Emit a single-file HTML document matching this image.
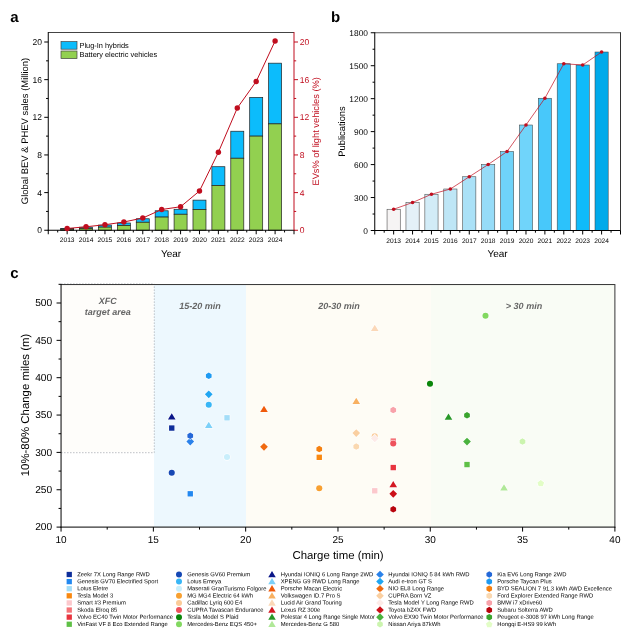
<!DOCTYPE html>
<html lang="en"><head><meta charset="utf-8"><title>EV fast charging figure</title>
<style>
html,body{margin:0;padding:0;background:#fff;}
body{width:640px;height:634px;overflow:hidden;}
svg{display:block;font-family:'Liberation Sans', Arial, sans-serif;}
</style></head><body>
<svg width="640" height="634" viewBox="0 0 640 634" text-rendering="geometricPrecision" font-family="'Liberation Sans', Arial, sans-serif">
<rect width="640" height="634" fill="#fff"/>
<g id="panelA">
<rect x="60.65" y="228.37" width="13.0" height="0.85" fill="#0CBCFC" stroke="#222" stroke-width="0.7"/>
<rect x="60.65" y="229.21" width="13.0" height="1.04" fill="#92D050" stroke="#222" stroke-width="0.7"/>
<rect x="79.56" y="227.24" width="13.0" height="1.13" fill="#0CBCFC" stroke="#222" stroke-width="0.7"/>
<rect x="79.56" y="228.37" width="13.0" height="1.88" fill="#92D050" stroke="#222" stroke-width="0.7"/>
<rect x="98.46" y="225.07" width="13.0" height="2.07" fill="#0CBCFC" stroke="#222" stroke-width="0.7"/>
<rect x="98.46" y="227.14" width="13.0" height="3.11" fill="#92D050" stroke="#222" stroke-width="0.7"/>
<rect x="117.37" y="223.00" width="13.0" height="2.54" fill="#0CBCFC" stroke="#222" stroke-width="0.7"/>
<rect x="117.37" y="225.54" width="13.0" height="4.71" fill="#92D050" stroke="#222" stroke-width="0.7"/>
<rect x="136.27" y="218.77" width="13.0" height="3.48" fill="#0CBCFC" stroke="#222" stroke-width="0.7"/>
<rect x="136.27" y="222.25" width="13.0" height="8.00" fill="#92D050" stroke="#222" stroke-width="0.7"/>
<rect x="155.17" y="210.77" width="13.0" height="6.31" fill="#0CBCFC" stroke="#222" stroke-width="0.7"/>
<rect x="155.17" y="217.07" width="13.0" height="13.18" fill="#92D050" stroke="#222" stroke-width="0.7"/>
<rect x="174.08" y="209.26" width="13.0" height="4.99" fill="#0CBCFC" stroke="#222" stroke-width="0.7"/>
<rect x="174.08" y="214.25" width="13.0" height="16.00" fill="#92D050" stroke="#222" stroke-width="0.7"/>
<rect x="192.98" y="200.13" width="13.0" height="9.41" fill="#0CBCFC" stroke="#222" stroke-width="0.7"/>
<rect x="192.98" y="209.54" width="13.0" height="20.71" fill="#92D050" stroke="#222" stroke-width="0.7"/>
<rect x="211.88" y="166.72" width="13.0" height="18.83" fill="#0CBCFC" stroke="#222" stroke-width="0.7"/>
<rect x="211.88" y="185.54" width="13.0" height="44.71" fill="#92D050" stroke="#222" stroke-width="0.7"/>
<rect x="230.79" y="131.23" width="13.0" height="27.01" fill="#0CBCFC" stroke="#222" stroke-width="0.7"/>
<rect x="230.79" y="158.24" width="13.0" height="72.01" fill="#92D050" stroke="#222" stroke-width="0.7"/>
<rect x="249.69" y="97.35" width="13.0" height="38.78" fill="#0CBCFC" stroke="#222" stroke-width="0.7"/>
<rect x="249.69" y="136.12" width="13.0" height="94.12" fill="#92D050" stroke="#222" stroke-width="0.7"/>
<rect x="268.60" y="63.18" width="13.0" height="60.71" fill="#0CBCFC" stroke="#222" stroke-width="0.7"/>
<rect x="268.60" y="123.89" width="13.0" height="106.36" fill="#92D050" stroke="#222" stroke-width="0.7"/>
<line x1="48.25" y1="32.50" x2="294.00" y2="32.50" stroke="#444" stroke-width="1" />
<line x1="48.25" y1="32.00" x2="48.25" y2="230.75" stroke="#000" stroke-width="1" />
<line x1="47.75" y1="230.25" x2="294.50" y2="230.25" stroke="#000" stroke-width="1" />
<line x1="294.00" y1="32.00" x2="294.00" y2="230.75" stroke="#C00D1E" stroke-width="1" />
<line x1="44.25" y1="230.25" x2="48.25" y2="230.25" stroke="#000" stroke-width="1" />
<line x1="294.00" y1="230.25" x2="298.00" y2="230.25" stroke="#C00D1E" stroke-width="1" />
<text x="42.00" y="233.35" font-size="8.5" text-anchor="end" fill="#000" font-weight="normal" font-style="normal">0</text>
<text x="299.80" y="233.35" font-size="8.5" text-anchor="start" fill="#C00D1E" font-weight="normal" font-style="normal">0</text>
<line x1="46.05" y1="211.43" x2="48.25" y2="211.43" stroke="#000" stroke-width="1" />
<line x1="294.00" y1="211.43" x2="296.20" y2="211.43" stroke="#C00D1E" stroke-width="1" />
<line x1="44.25" y1="192.60" x2="48.25" y2="192.60" stroke="#000" stroke-width="1" />
<line x1="294.00" y1="192.60" x2="298.00" y2="192.60" stroke="#C00D1E" stroke-width="1" />
<text x="42.00" y="195.70" font-size="8.5" text-anchor="end" fill="#000" font-weight="normal" font-style="normal">4</text>
<text x="299.80" y="195.70" font-size="8.5" text-anchor="start" fill="#C00D1E" font-weight="normal" font-style="normal">4</text>
<line x1="46.05" y1="173.78" x2="48.25" y2="173.78" stroke="#000" stroke-width="1" />
<line x1="294.00" y1="173.78" x2="296.20" y2="173.78" stroke="#C00D1E" stroke-width="1" />
<line x1="44.25" y1="154.95" x2="48.25" y2="154.95" stroke="#000" stroke-width="1" />
<line x1="294.00" y1="154.95" x2="298.00" y2="154.95" stroke="#C00D1E" stroke-width="1" />
<text x="42.00" y="158.05" font-size="8.5" text-anchor="end" fill="#000" font-weight="normal" font-style="normal">8</text>
<text x="299.80" y="158.05" font-size="8.5" text-anchor="start" fill="#C00D1E" font-weight="normal" font-style="normal">8</text>
<line x1="46.05" y1="136.12" x2="48.25" y2="136.12" stroke="#000" stroke-width="1" />
<line x1="294.00" y1="136.12" x2="296.20" y2="136.12" stroke="#C00D1E" stroke-width="1" />
<line x1="44.25" y1="117.30" x2="48.25" y2="117.30" stroke="#000" stroke-width="1" />
<line x1="294.00" y1="117.30" x2="298.00" y2="117.30" stroke="#C00D1E" stroke-width="1" />
<text x="42.00" y="120.40" font-size="8.5" text-anchor="end" fill="#000" font-weight="normal" font-style="normal">12</text>
<text x="299.80" y="120.40" font-size="8.5" text-anchor="start" fill="#C00D1E" font-weight="normal" font-style="normal">12</text>
<line x1="46.05" y1="98.47" x2="48.25" y2="98.47" stroke="#000" stroke-width="1" />
<line x1="294.00" y1="98.47" x2="296.20" y2="98.47" stroke="#C00D1E" stroke-width="1" />
<line x1="44.25" y1="79.65" x2="48.25" y2="79.65" stroke="#000" stroke-width="1" />
<line x1="294.00" y1="79.65" x2="298.00" y2="79.65" stroke="#C00D1E" stroke-width="1" />
<text x="42.00" y="82.75" font-size="8.5" text-anchor="end" fill="#000" font-weight="normal" font-style="normal">16</text>
<text x="299.80" y="82.75" font-size="8.5" text-anchor="start" fill="#C00D1E" font-weight="normal" font-style="normal">16</text>
<line x1="46.05" y1="60.83" x2="48.25" y2="60.83" stroke="#000" stroke-width="1" />
<line x1="294.00" y1="60.83" x2="296.20" y2="60.83" stroke="#C00D1E" stroke-width="1" />
<line x1="44.25" y1="42.00" x2="48.25" y2="42.00" stroke="#000" stroke-width="1" />
<line x1="294.00" y1="42.00" x2="298.00" y2="42.00" stroke="#C00D1E" stroke-width="1" />
<text x="42.00" y="45.10" font-size="8.5" text-anchor="end" fill="#000" font-weight="normal" font-style="normal">20</text>
<text x="299.80" y="45.10" font-size="8.5" text-anchor="start" fill="#C00D1E" font-weight="normal" font-style="normal">20</text>
<line x1="48.25" y1="230.25" x2="48.25" y2="234.25" stroke="#000" stroke-width="1" />
<line x1="57.70" y1="230.25" x2="57.70" y2="232.45" stroke="#000" stroke-width="1" />
<line x1="67.15" y1="230.25" x2="67.15" y2="234.25" stroke="#000" stroke-width="1" />
<line x1="76.61" y1="230.25" x2="76.61" y2="232.45" stroke="#000" stroke-width="1" />
<line x1="86.06" y1="230.25" x2="86.06" y2="234.25" stroke="#000" stroke-width="1" />
<line x1="95.51" y1="230.25" x2="95.51" y2="232.45" stroke="#000" stroke-width="1" />
<line x1="104.96" y1="230.25" x2="104.96" y2="234.25" stroke="#000" stroke-width="1" />
<line x1="114.41" y1="230.25" x2="114.41" y2="232.45" stroke="#000" stroke-width="1" />
<line x1="123.87" y1="230.25" x2="123.87" y2="234.25" stroke="#000" stroke-width="1" />
<line x1="133.32" y1="230.25" x2="133.32" y2="232.45" stroke="#000" stroke-width="1" />
<line x1="142.77" y1="230.25" x2="142.77" y2="234.25" stroke="#000" stroke-width="1" />
<line x1="152.22" y1="230.25" x2="152.22" y2="232.45" stroke="#000" stroke-width="1" />
<line x1="161.67" y1="230.25" x2="161.67" y2="234.25" stroke="#000" stroke-width="1" />
<line x1="171.12" y1="230.25" x2="171.12" y2="232.45" stroke="#000" stroke-width="1" />
<line x1="180.58" y1="230.25" x2="180.58" y2="234.25" stroke="#000" stroke-width="1" />
<line x1="190.03" y1="230.25" x2="190.03" y2="232.45" stroke="#000" stroke-width="1" />
<line x1="199.48" y1="230.25" x2="199.48" y2="234.25" stroke="#000" stroke-width="1" />
<line x1="208.93" y1="230.25" x2="208.93" y2="232.45" stroke="#000" stroke-width="1" />
<line x1="218.38" y1="230.25" x2="218.38" y2="234.25" stroke="#000" stroke-width="1" />
<line x1="227.84" y1="230.25" x2="227.84" y2="232.45" stroke="#000" stroke-width="1" />
<line x1="237.29" y1="230.25" x2="237.29" y2="234.25" stroke="#000" stroke-width="1" />
<line x1="246.74" y1="230.25" x2="246.74" y2="232.45" stroke="#000" stroke-width="1" />
<line x1="256.19" y1="230.25" x2="256.19" y2="234.25" stroke="#000" stroke-width="1" />
<line x1="265.64" y1="230.25" x2="265.64" y2="232.45" stroke="#000" stroke-width="1" />
<line x1="275.10" y1="230.25" x2="275.10" y2="234.25" stroke="#000" stroke-width="1" />
<line x1="284.55" y1="230.25" x2="284.55" y2="232.45" stroke="#000" stroke-width="1" />
<line x1="294.00" y1="230.25" x2="294.00" y2="234.25" stroke="#000" stroke-width="1" />
<text x="67.15" y="242.20" font-size="6.6" text-anchor="middle" fill="#000" font-weight="normal" font-style="normal">2013</text>
<text x="86.06" y="242.20" font-size="6.6" text-anchor="middle" fill="#000" font-weight="normal" font-style="normal">2014</text>
<text x="104.96" y="242.20" font-size="6.6" text-anchor="middle" fill="#000" font-weight="normal" font-style="normal">2015</text>
<text x="123.87" y="242.20" font-size="6.6" text-anchor="middle" fill="#000" font-weight="normal" font-style="normal">2016</text>
<text x="142.77" y="242.20" font-size="6.6" text-anchor="middle" fill="#000" font-weight="normal" font-style="normal">2017</text>
<text x="161.67" y="242.20" font-size="6.6" text-anchor="middle" fill="#000" font-weight="normal" font-style="normal">2018</text>
<text x="180.58" y="242.20" font-size="6.6" text-anchor="middle" fill="#000" font-weight="normal" font-style="normal">2019</text>
<text x="199.48" y="242.20" font-size="6.6" text-anchor="middle" fill="#000" font-weight="normal" font-style="normal">2020</text>
<text x="218.38" y="242.20" font-size="6.6" text-anchor="middle" fill="#000" font-weight="normal" font-style="normal">2021</text>
<text x="237.29" y="242.20" font-size="6.6" text-anchor="middle" fill="#000" font-weight="normal" font-style="normal">2022</text>
<text x="256.19" y="242.20" font-size="6.6" text-anchor="middle" fill="#000" font-weight="normal" font-style="normal">2023</text>
<text x="275.10" y="242.20" font-size="6.6" text-anchor="middle" fill="#000" font-weight="normal" font-style="normal">2024</text>
<polyline points="67.15,228.50 86.06,226.75 104.96,224.75 123.87,222.00 142.77,218.00 161.67,209.50 180.58,206.75 199.48,191.00 218.38,152.25 237.29,108.00 256.19,81.50 275.10,41.00" fill="none" stroke="#C00D1E" stroke-width="1"/>
<circle cx="67.15" cy="228.50" r="2.7" fill="#C00D1E"/>
<circle cx="86.06" cy="226.75" r="2.7" fill="#C00D1E"/>
<circle cx="104.96" cy="224.75" r="2.7" fill="#C00D1E"/>
<circle cx="123.87" cy="222.00" r="2.7" fill="#C00D1E"/>
<circle cx="142.77" cy="218.00" r="2.7" fill="#C00D1E"/>
<circle cx="161.67" cy="209.50" r="2.7" fill="#C00D1E"/>
<circle cx="180.58" cy="206.75" r="2.7" fill="#C00D1E"/>
<circle cx="199.48" cy="191.00" r="2.7" fill="#C00D1E"/>
<circle cx="218.38" cy="152.25" r="2.7" fill="#C00D1E"/>
<circle cx="237.29" cy="108.00" r="2.7" fill="#C00D1E"/>
<circle cx="256.19" cy="81.50" r="2.7" fill="#C00D1E"/>
<circle cx="275.10" cy="41.00" r="2.7" fill="#C00D1E"/>
<rect x="61" y="41.6" width="16" height="7.6" fill="#0CBCFC" stroke="#444" stroke-width="0.7"/>
<rect x="61" y="51" width="16" height="7.6" fill="#92D050" stroke="#444" stroke-width="0.7"/>
<text x="79.50" y="47.60" font-size="7.4" text-anchor="start" fill="#000" font-weight="normal" font-style="normal">Plug-In hybrids</text>
<text x="79.50" y="56.80" font-size="7.4" text-anchor="start" fill="#000" font-weight="normal" font-style="normal">Battery electric vehicles</text>
<text x="28.10" y="131.00" font-size="9.45" text-anchor="middle" fill="#000" font-weight="normal" font-style="normal" transform="rotate(-90 28.10 131.00)">Global BEV &amp; PHEV sales (Million)</text>
<text x="319.00" y="131.30" font-size="9.3" text-anchor="middle" fill="#C00D1E" font-weight="normal" font-style="normal" transform="rotate(-90 319.00 131.30)">EVs% of light vehicles (%)</text>
<text x="171.00" y="256.60" font-size="10" text-anchor="middle" fill="#000" font-weight="normal" font-style="normal">Year</text>
<text x="10.30" y="21.50" font-size="15" text-anchor="start" fill="#000" font-weight="bold" font-style="normal">a</text>
</g>
<g id="panelB">
<rect x="387.05" y="209.25" width="13.2" height="21.25" fill="#F6F4F4" stroke="#444" stroke-width="0.55"/>
<rect x="405.96" y="202.50" width="13.2" height="28.00" fill="#E4F1F8" stroke="#444" stroke-width="0.55"/>
<rect x="424.86" y="194.25" width="13.2" height="36.25" fill="#D2ECF7" stroke="#444" stroke-width="0.55"/>
<rect x="443.77" y="189.00" width="13.2" height="41.50" fill="#BEE6F6" stroke="#444" stroke-width="0.55"/>
<rect x="462.67" y="176.75" width="13.2" height="53.75" fill="#AAE1F7" stroke="#444" stroke-width="0.55"/>
<rect x="481.57" y="164.50" width="13.2" height="66.00" fill="#96DCF8" stroke="#444" stroke-width="0.55"/>
<rect x="500.48" y="151.50" width="13.2" height="79.00" fill="#6FD3F9" stroke="#444" stroke-width="0.55"/>
<rect x="519.38" y="125.00" width="13.2" height="105.50" fill="#70D4FA" stroke="#444" stroke-width="0.55"/>
<rect x="538.28" y="98.25" width="13.2" height="132.25" fill="#48C8FA" stroke="#444" stroke-width="0.55"/>
<rect x="557.19" y="63.75" width="13.2" height="166.75" fill="#2CC2FB" stroke="#444" stroke-width="0.55"/>
<rect x="576.09" y="65.00" width="13.2" height="165.50" fill="#10BBFA" stroke="#444" stroke-width="0.55"/>
<rect x="595.00" y="52.00" width="13.2" height="178.50" fill="#00AAEA" stroke="#444" stroke-width="0.55"/>
<line x1="374.75" y1="32.75" x2="620.50" y2="32.75" stroke="#555" stroke-width="1" />
<line x1="374.75" y1="32.25" x2="374.75" y2="231.00" stroke="#000" stroke-width="1" />
<line x1="374.25" y1="230.50" x2="621.00" y2="230.50" stroke="#000" stroke-width="1" />
<line x1="620.50" y1="32.25" x2="620.50" y2="231.00" stroke="#333" stroke-width="1" />
<line x1="370.75" y1="230.50" x2="374.75" y2="230.50" stroke="#000" stroke-width="1" />
<text x="368.00" y="233.50" font-size="8.4" text-anchor="end" fill="#000" font-weight="normal" font-style="normal">0</text>
<line x1="372.55" y1="214.02" x2="374.75" y2="214.02" stroke="#000" stroke-width="1" />
<line x1="370.75" y1="197.54" x2="374.75" y2="197.54" stroke="#000" stroke-width="1" />
<text x="368.00" y="200.54" font-size="8.4" text-anchor="end" fill="#000" font-weight="normal" font-style="normal">300</text>
<line x1="372.55" y1="181.06" x2="374.75" y2="181.06" stroke="#000" stroke-width="1" />
<line x1="370.75" y1="164.58" x2="374.75" y2="164.58" stroke="#000" stroke-width="1" />
<text x="368.00" y="167.58" font-size="8.4" text-anchor="end" fill="#000" font-weight="normal" font-style="normal">600</text>
<line x1="372.55" y1="148.10" x2="374.75" y2="148.10" stroke="#000" stroke-width="1" />
<line x1="370.75" y1="131.62" x2="374.75" y2="131.62" stroke="#000" stroke-width="1" />
<text x="368.00" y="134.62" font-size="8.4" text-anchor="end" fill="#000" font-weight="normal" font-style="normal">900</text>
<line x1="372.55" y1="115.15" x2="374.75" y2="115.15" stroke="#000" stroke-width="1" />
<line x1="370.75" y1="98.67" x2="374.75" y2="98.67" stroke="#000" stroke-width="1" />
<text x="368.00" y="101.67" font-size="8.4" text-anchor="end" fill="#000" font-weight="normal" font-style="normal">1200</text>
<line x1="372.55" y1="82.19" x2="374.75" y2="82.19" stroke="#000" stroke-width="1" />
<line x1="370.75" y1="65.71" x2="374.75" y2="65.71" stroke="#000" stroke-width="1" />
<text x="368.00" y="68.71" font-size="8.4" text-anchor="end" fill="#000" font-weight="normal" font-style="normal">1500</text>
<line x1="372.55" y1="49.23" x2="374.75" y2="49.23" stroke="#000" stroke-width="1" />
<line x1="370.75" y1="32.75" x2="374.75" y2="32.75" stroke="#000" stroke-width="1" />
<text x="368.00" y="35.75" font-size="8.4" text-anchor="end" fill="#000" font-weight="normal" font-style="normal">1800</text>
<line x1="374.75" y1="230.50" x2="374.75" y2="234.50" stroke="#000" stroke-width="1" />
<line x1="384.20" y1="230.50" x2="384.20" y2="232.70" stroke="#000" stroke-width="1" />
<line x1="393.65" y1="230.50" x2="393.65" y2="234.50" stroke="#000" stroke-width="1" />
<line x1="403.11" y1="230.50" x2="403.11" y2="232.70" stroke="#000" stroke-width="1" />
<line x1="412.56" y1="230.50" x2="412.56" y2="234.50" stroke="#000" stroke-width="1" />
<line x1="422.01" y1="230.50" x2="422.01" y2="232.70" stroke="#000" stroke-width="1" />
<line x1="431.46" y1="230.50" x2="431.46" y2="234.50" stroke="#000" stroke-width="1" />
<line x1="440.91" y1="230.50" x2="440.91" y2="232.70" stroke="#000" stroke-width="1" />
<line x1="450.37" y1="230.50" x2="450.37" y2="234.50" stroke="#000" stroke-width="1" />
<line x1="459.82" y1="230.50" x2="459.82" y2="232.70" stroke="#000" stroke-width="1" />
<line x1="469.27" y1="230.50" x2="469.27" y2="234.50" stroke="#000" stroke-width="1" />
<line x1="478.72" y1="230.50" x2="478.72" y2="232.70" stroke="#000" stroke-width="1" />
<line x1="488.17" y1="230.50" x2="488.17" y2="234.50" stroke="#000" stroke-width="1" />
<line x1="497.62" y1="230.50" x2="497.62" y2="232.70" stroke="#000" stroke-width="1" />
<line x1="507.08" y1="230.50" x2="507.08" y2="234.50" stroke="#000" stroke-width="1" />
<line x1="516.53" y1="230.50" x2="516.53" y2="232.70" stroke="#000" stroke-width="1" />
<line x1="525.98" y1="230.50" x2="525.98" y2="234.50" stroke="#000" stroke-width="1" />
<line x1="535.43" y1="230.50" x2="535.43" y2="232.70" stroke="#000" stroke-width="1" />
<line x1="544.88" y1="230.50" x2="544.88" y2="234.50" stroke="#000" stroke-width="1" />
<line x1="554.34" y1="230.50" x2="554.34" y2="232.70" stroke="#000" stroke-width="1" />
<line x1="563.79" y1="230.50" x2="563.79" y2="234.50" stroke="#000" stroke-width="1" />
<line x1="573.24" y1="230.50" x2="573.24" y2="232.70" stroke="#000" stroke-width="1" />
<line x1="582.69" y1="230.50" x2="582.69" y2="234.50" stroke="#000" stroke-width="1" />
<line x1="592.14" y1="230.50" x2="592.14" y2="232.70" stroke="#000" stroke-width="1" />
<line x1="601.60" y1="230.50" x2="601.60" y2="234.50" stroke="#000" stroke-width="1" />
<line x1="611.05" y1="230.50" x2="611.05" y2="232.70" stroke="#000" stroke-width="1" />
<line x1="620.50" y1="230.50" x2="620.50" y2="234.50" stroke="#000" stroke-width="1" />
<text x="393.65" y="242.50" font-size="6.6" text-anchor="middle" fill="#000" font-weight="normal" font-style="normal">2013</text>
<text x="412.56" y="242.50" font-size="6.6" text-anchor="middle" fill="#000" font-weight="normal" font-style="normal">2014</text>
<text x="431.46" y="242.50" font-size="6.6" text-anchor="middle" fill="#000" font-weight="normal" font-style="normal">2015</text>
<text x="450.37" y="242.50" font-size="6.6" text-anchor="middle" fill="#000" font-weight="normal" font-style="normal">2016</text>
<text x="469.27" y="242.50" font-size="6.6" text-anchor="middle" fill="#000" font-weight="normal" font-style="normal">2017</text>
<text x="488.17" y="242.50" font-size="6.6" text-anchor="middle" fill="#000" font-weight="normal" font-style="normal">2018</text>
<text x="507.08" y="242.50" font-size="6.6" text-anchor="middle" fill="#000" font-weight="normal" font-style="normal">2019</text>
<text x="525.98" y="242.50" font-size="6.6" text-anchor="middle" fill="#000" font-weight="normal" font-style="normal">2020</text>
<text x="544.88" y="242.50" font-size="6.6" text-anchor="middle" fill="#000" font-weight="normal" font-style="normal">2021</text>
<text x="563.79" y="242.50" font-size="6.6" text-anchor="middle" fill="#000" font-weight="normal" font-style="normal">2022</text>
<text x="582.69" y="242.50" font-size="6.6" text-anchor="middle" fill="#000" font-weight="normal" font-style="normal">2023</text>
<text x="601.60" y="242.50" font-size="6.6" text-anchor="middle" fill="#000" font-weight="normal" font-style="normal">2024</text>
<polyline points="393.65,209.25 412.56,202.50 431.46,194.25 450.37,189.00 469.27,176.75 488.17,164.50 507.08,151.50 525.98,125.00 544.88,98.25 563.79,63.75 582.69,65.00 601.60,52.00" fill="none" stroke="#C00D1E" stroke-width="0.7"/>
<circle cx="393.65" cy="209.25" r="1.8" fill="#C00D1E"/>
<circle cx="412.56" cy="202.50" r="1.8" fill="#C00D1E"/>
<circle cx="431.46" cy="194.25" r="1.8" fill="#C00D1E"/>
<circle cx="450.37" cy="189.00" r="1.8" fill="#C00D1E"/>
<circle cx="469.27" cy="176.75" r="1.8" fill="#C00D1E"/>
<circle cx="488.17" cy="164.50" r="1.8" fill="#C00D1E"/>
<circle cx="507.08" cy="151.50" r="1.8" fill="#C00D1E"/>
<circle cx="525.98" cy="125.00" r="1.8" fill="#C00D1E"/>
<circle cx="544.88" cy="98.25" r="1.8" fill="#C00D1E"/>
<circle cx="563.79" cy="63.75" r="1.8" fill="#C00D1E"/>
<circle cx="582.69" cy="65.00" r="1.8" fill="#C00D1E"/>
<circle cx="601.60" cy="52.00" r="1.8" fill="#C00D1E"/>
<text x="345.30" y="131.50" font-size="9.4" text-anchor="middle" fill="#000" font-weight="normal" font-style="normal" transform="rotate(-90 345.30 131.50)">Publications</text>
<text x="497.50" y="256.60" font-size="10" text-anchor="middle" fill="#000" font-weight="normal" font-style="normal">Year</text>
<text x="331.00" y="21.50" font-size="15" text-anchor="start" fill="#000" font-weight="bold" font-style="normal">b</text>
</g>
<g id="panelC">
<rect x="61.05" y="284.55" width="92.20" height="167.25" fill="#FEFDFA"/>
<rect x="154.05" y="284.55" width="91.95" height="242.55" fill="#EDF8FE"/>
<rect x="246.0" y="284.55" width="184.90" height="242.55" fill="#FEFCF5"/>
<rect x="430.9" y="284.55" width="183.70" height="242.55" fill="#F9FCF5"/>
<path d="M61.05 452.70 H154.25 V284.55" fill="none" stroke="#B4B8BC" stroke-width="0.9" stroke-dasharray="1.5 1.5"/>
<path d="M61.05 283.95 H154.25" fill="none" stroke="#B4B8BC" stroke-width="0.9" stroke-dasharray="1.5 1.5"/>
<line x1="61.05" y1="284.55" x2="614.90" y2="284.55" stroke="#333" stroke-width="1" />
<line x1="614.90" y1="284.05" x2="614.90" y2="527.60" stroke="#333" stroke-width="1" />
<line x1="61.05" y1="284.05" x2="61.05" y2="527.60" stroke="#000" stroke-width="1" />
<line x1="60.55" y1="527.10" x2="615.40" y2="527.10" stroke="#000" stroke-width="1" />
<line x1="56.55" y1="527.10" x2="61.05" y2="527.10" stroke="#000" stroke-width="1" />
<text x="52.20" y="530.30" font-size="10.2" text-anchor="end" fill="#000" font-weight="normal" font-style="normal">200</text>
<line x1="58.55" y1="508.43" x2="61.05" y2="508.43" stroke="#000" stroke-width="1" />
<line x1="56.55" y1="489.75" x2="61.05" y2="489.75" stroke="#000" stroke-width="1" />
<text x="52.20" y="492.95" font-size="10.2" text-anchor="end" fill="#000" font-weight="normal" font-style="normal">250</text>
<line x1="58.55" y1="471.08" x2="61.05" y2="471.08" stroke="#000" stroke-width="1" />
<line x1="56.55" y1="452.40" x2="61.05" y2="452.40" stroke="#000" stroke-width="1" />
<text x="52.20" y="455.60" font-size="10.2" text-anchor="end" fill="#000" font-weight="normal" font-style="normal">300</text>
<line x1="58.55" y1="433.73" x2="61.05" y2="433.73" stroke="#000" stroke-width="1" />
<line x1="56.55" y1="415.05" x2="61.05" y2="415.05" stroke="#000" stroke-width="1" />
<text x="52.20" y="418.25" font-size="10.2" text-anchor="end" fill="#000" font-weight="normal" font-style="normal">350</text>
<line x1="58.55" y1="396.38" x2="61.05" y2="396.38" stroke="#000" stroke-width="1" />
<line x1="56.55" y1="377.70" x2="61.05" y2="377.70" stroke="#000" stroke-width="1" />
<text x="52.20" y="380.90" font-size="10.2" text-anchor="end" fill="#000" font-weight="normal" font-style="normal">400</text>
<line x1="58.55" y1="359.02" x2="61.05" y2="359.02" stroke="#000" stroke-width="1" />
<line x1="56.55" y1="340.35" x2="61.05" y2="340.35" stroke="#000" stroke-width="1" />
<text x="52.20" y="343.55" font-size="10.2" text-anchor="end" fill="#000" font-weight="normal" font-style="normal">450</text>
<line x1="58.55" y1="321.67" x2="61.05" y2="321.67" stroke="#000" stroke-width="1" />
<line x1="56.55" y1="303.00" x2="61.05" y2="303.00" stroke="#000" stroke-width="1" />
<text x="52.20" y="306.20" font-size="10.2" text-anchor="end" fill="#000" font-weight="normal" font-style="normal">500</text>
<line x1="58.55" y1="284.32" x2="61.05" y2="284.32" stroke="#000" stroke-width="1" />
<line x1="61.05" y1="527.10" x2="61.05" y2="531.60" stroke="#000" stroke-width="1" />
<text x="61.05" y="542.70" font-size="10" text-anchor="middle" fill="#000" font-weight="normal" font-style="normal">10</text>
<line x1="107.20" y1="527.10" x2="107.20" y2="529.60" stroke="#000" stroke-width="1" />
<line x1="153.36" y1="527.10" x2="153.36" y2="531.60" stroke="#000" stroke-width="1" />
<text x="153.36" y="542.70" font-size="10" text-anchor="middle" fill="#000" font-weight="normal" font-style="normal">15</text>
<line x1="199.51" y1="527.10" x2="199.51" y2="529.60" stroke="#000" stroke-width="1" />
<line x1="245.67" y1="527.10" x2="245.67" y2="531.60" stroke="#000" stroke-width="1" />
<text x="245.67" y="542.70" font-size="10" text-anchor="middle" fill="#000" font-weight="normal" font-style="normal">20</text>
<line x1="291.82" y1="527.10" x2="291.82" y2="529.60" stroke="#000" stroke-width="1" />
<line x1="337.98" y1="527.10" x2="337.98" y2="531.60" stroke="#000" stroke-width="1" />
<text x="337.98" y="542.70" font-size="10" text-anchor="middle" fill="#000" font-weight="normal" font-style="normal">25</text>
<line x1="384.13" y1="527.10" x2="384.13" y2="529.60" stroke="#000" stroke-width="1" />
<line x1="430.28" y1="527.10" x2="430.28" y2="531.60" stroke="#000" stroke-width="1" />
<text x="430.28" y="542.70" font-size="10" text-anchor="middle" fill="#000" font-weight="normal" font-style="normal">30</text>
<line x1="476.44" y1="527.10" x2="476.44" y2="529.60" stroke="#000" stroke-width="1" />
<line x1="522.59" y1="527.10" x2="522.59" y2="531.60" stroke="#000" stroke-width="1" />
<text x="522.59" y="542.70" font-size="10" text-anchor="middle" fill="#000" font-weight="normal" font-style="normal">35</text>
<line x1="568.75" y1="527.10" x2="568.75" y2="529.60" stroke="#000" stroke-width="1" />
<line x1="614.90" y1="527.10" x2="614.90" y2="531.60" stroke="#000" stroke-width="1" />
<text x="614.90" y="542.70" font-size="10" text-anchor="middle" fill="#000" font-weight="normal" font-style="normal">40</text>
<text x="28.50" y="405.00" font-size="11.4" text-anchor="middle" fill="#000" font-weight="normal" font-style="normal" transform="rotate(-90 28.50 405.00)">10%-80% Change miles (m)</text>
<text x="338.00" y="559.00" font-size="11.4" text-anchor="middle" fill="#000" font-weight="normal" font-style="normal">Charge time (min)</text>
<text x="10.30" y="277.70" font-size="15" text-anchor="start" fill="#000" font-weight="bold" font-style="normal">c</text>
<text x="107.75" y="303.50" font-size="9.0" text-anchor="middle" fill="#666666" font-weight="bold" font-style="italic">XFC</text>
<text x="107.75" y="315.00" font-size="9.0" text-anchor="middle" fill="#666666" font-weight="bold" font-style="italic">target area</text>
<text x="200.00" y="309.20" font-size="9.05" text-anchor="middle" fill="#666666" font-weight="bold" font-style="italic">15-20 min</text>
<text x="339.00" y="309.20" font-size="9.05" text-anchor="middle" fill="#666666" font-weight="bold" font-style="italic">20-30 min</text>
<text x="524.00" y="309.20" font-size="9.05" text-anchor="middle" fill="#666666" font-weight="bold" font-style="italic">&gt; 30 min</text>
<rect x="169.07" y="425.37" width="5.37" height="5.37" fill="#0E2E9A" stroke="#fff" stroke-opacity="0.9" stroke-width="1.1" paint-order="stroke"/>
<rect x="187.57" y="491.12" width="5.37" height="5.37" fill="#2288F0" stroke="#fff" stroke-opacity="0.9" stroke-width="1.1" paint-order="stroke"/>
<rect x="224.32" y="415.12" width="5.37" height="5.37" fill="#A3DDF8" stroke="#fff" stroke-opacity="0.9" stroke-width="1.1" paint-order="stroke"/>
<rect x="316.57" y="454.62" width="5.37" height="5.37" fill="#F98810" stroke="#fff" stroke-opacity="0.9" stroke-width="1.1" paint-order="stroke"/>
<rect x="372.07" y="488.12" width="5.37" height="5.37" fill="#FCC8CC" stroke="#fff" stroke-opacity="0.9" stroke-width="1.1" paint-order="stroke"/>
<rect x="390.57" y="438.37" width="5.37" height="5.37" fill="#F47478" stroke="#fff" stroke-opacity="0.9" stroke-width="1.1" paint-order="stroke"/>
<rect x="390.57" y="464.87" width="5.37" height="5.37" fill="#E8343E" stroke="#fff" stroke-opacity="0.9" stroke-width="1.1" paint-order="stroke"/>
<rect x="464.32" y="461.87" width="5.37" height="5.37" fill="#5EC046" stroke="#fff" stroke-opacity="0.9" stroke-width="1.1" paint-order="stroke"/>
<circle cx="171.75" cy="472.80" r="3.05" fill="#1648B4" stroke="#fff" stroke-opacity="0.9" stroke-width="1.1" paint-order="stroke"/>
<circle cx="208.75" cy="404.80" r="3.05" fill="#38B6F6" stroke="#fff" stroke-opacity="0.9" stroke-width="1.1" paint-order="stroke"/>
<circle cx="227.00" cy="457.05" r="3.05" fill="#C8EEFB" stroke="#fff" stroke-opacity="0.9" stroke-width="1.1" paint-order="stroke"/>
<circle cx="319.25" cy="488.30" r="3.05" fill="#F8A030" stroke="#fff" stroke-opacity="0.9" stroke-width="1.1" paint-order="stroke"/>
<circle cx="374.75" cy="436.30" r="3.05" fill="#FBCB98" stroke="#fff" stroke-opacity="0.9" stroke-width="1.1" paint-order="stroke"/>
<circle cx="393.25" cy="443.55" r="3.05" fill="#EE525C" stroke="#fff" stroke-opacity="0.9" stroke-width="1.1" paint-order="stroke"/>
<circle cx="430.00" cy="383.80" r="3.05" fill="#0A860A" stroke="#fff" stroke-opacity="0.9" stroke-width="1.1" paint-order="stroke"/>
<circle cx="485.50" cy="315.80" r="3.05" fill="#82D860" stroke="#fff" stroke-opacity="0.9" stroke-width="1.1" paint-order="stroke"/>
<polygon points="171.75,413.14 175.56,419.55 167.94,419.55" fill="#0A1688" stroke="#fff" stroke-opacity="0.9" stroke-width="1.1" paint-order="stroke"/>
<polygon points="208.75,421.64 212.56,428.05 204.94,428.05" fill="#7CD0F8" stroke="#fff" stroke-opacity="0.9" stroke-width="1.1" paint-order="stroke"/>
<polygon points="264.00,405.64 267.81,412.05 260.19,412.05" fill="#F05A0A" stroke="#fff" stroke-opacity="0.9" stroke-width="1.1" paint-order="stroke"/>
<polygon points="356.25,397.64 360.06,404.05 352.44,404.05" fill="#F8B060" stroke="#fff" stroke-opacity="0.9" stroke-width="1.1" paint-order="stroke"/>
<polygon points="374.75,324.64 378.56,331.05 370.94,331.05" fill="#FBD8B8" stroke="#fff" stroke-opacity="0.9" stroke-width="1.1" paint-order="stroke"/>
<polygon points="393.25,480.89 397.06,487.30 389.44,487.30" fill="#D41822" stroke="#fff" stroke-opacity="0.9" stroke-width="1.1" paint-order="stroke"/>
<polygon points="448.50,413.39 452.31,419.80 444.69,419.80" fill="#289828" stroke="#fff" stroke-opacity="0.9" stroke-width="1.1" paint-order="stroke"/>
<polygon points="504.00,484.14 507.81,490.55 500.19,490.55" fill="#B0E898" stroke="#fff" stroke-opacity="0.9" stroke-width="1.1" paint-order="stroke"/>
<polygon points="190.25,437.68 194.12,441.55 190.25,445.42 186.38,441.55" fill="#2A82EA" stroke="#fff" stroke-opacity="0.9" stroke-width="1.1" paint-order="stroke"/>
<polygon points="208.75,390.43 212.62,394.30 208.75,398.17 204.88,394.30" fill="#20A6F2" stroke="#fff" stroke-opacity="0.9" stroke-width="1.1" paint-order="stroke"/>
<polygon points="264.00,442.93 267.87,446.80 264.00,450.67 260.13,446.80" fill="#F06A10" stroke="#fff" stroke-opacity="0.9" stroke-width="1.1" paint-order="stroke"/>
<polygon points="356.25,429.18 360.12,433.05 356.25,436.92 352.38,433.05" fill="#FACFA0" stroke="#fff" stroke-opacity="0.9" stroke-width="1.1" paint-order="stroke"/>
<polygon points="374.75,434.63 378.62,438.50 374.75,442.37 370.88,438.50" fill="#FDEBE8" stroke="#fff" stroke-opacity="0.9" stroke-width="1.1" paint-order="stroke"/>
<polygon points="393.25,489.93 397.12,493.80 393.25,497.67 389.38,493.80" fill="#CC1018" stroke="#fff" stroke-opacity="0.9" stroke-width="1.1" paint-order="stroke"/>
<polygon points="467.00,437.68 470.87,441.55 467.00,445.42 463.13,441.55" fill="#4AB23E" stroke="#fff" stroke-opacity="0.9" stroke-width="1.1" paint-order="stroke"/>
<polygon points="522.50,438.26 525.35,439.90 525.35,443.20 522.50,444.84 519.65,443.20 519.65,439.90" fill="#CBF4AE" stroke="#fff" stroke-opacity="0.9" stroke-width="1.1" paint-order="stroke"/>
<polygon points="190.25,432.51 193.10,434.15 193.10,437.45 190.25,439.09 187.40,437.45 187.40,434.15" fill="#2468D8" stroke="#fff" stroke-opacity="0.9" stroke-width="1.1" paint-order="stroke"/>
<polygon points="208.75,372.51 211.60,374.15 211.60,377.45 208.75,379.09 205.90,377.45 205.90,374.15" fill="#1E9AF2" stroke="#fff" stroke-opacity="0.9" stroke-width="1.1" paint-order="stroke"/>
<polygon points="319.25,445.76 322.10,447.40 322.10,450.70 319.25,452.34 316.40,450.70 316.40,447.40" fill="#F58010" stroke="#fff" stroke-opacity="0.9" stroke-width="1.1" paint-order="stroke"/>
<polygon points="356.25,443.26 359.10,444.90 359.10,448.20 356.25,449.84 353.40,448.20 353.40,444.90" fill="#FAD8B0" stroke="#fff" stroke-opacity="0.9" stroke-width="1.1" paint-order="stroke"/>
<polygon points="393.25,406.76 396.10,408.40 396.10,411.70 393.25,413.34 390.40,411.70 390.40,408.40" fill="#F8A2AA" stroke="#fff" stroke-opacity="0.9" stroke-width="1.1" paint-order="stroke"/>
<polygon points="393.25,506.01 396.10,507.65 396.10,510.95 393.25,512.59 390.40,510.95 390.40,507.65" fill="#B8040C" stroke="#fff" stroke-opacity="0.9" stroke-width="1.1" paint-order="stroke"/>
<polygon points="467.00,412.01 469.85,413.65 469.85,416.95 467.00,418.59 464.15,416.95 464.15,413.65" fill="#3AA42E" stroke="#fff" stroke-opacity="0.9" stroke-width="1.1" paint-order="stroke"/>
<polygon points="540.75,479.99 544.09,482.42 542.81,486.34 538.69,486.34 537.41,482.42" fill="#E2FDC6" stroke="#fff" stroke-opacity="0.9" stroke-width="1.1" paint-order="stroke"/>
<rect x="66.61" y="571.86" width="5.28" height="5.28" fill="#0E2E9A" stroke="#fff" stroke-opacity="0.9" stroke-width="1.1" paint-order="stroke"/>
<text x="77.20" y="576.15" font-size="5.85" text-anchor="start" fill="#000" font-weight="normal" font-style="normal" transform="rotate(0.03 77.20 576.15)">Zeekr 7X Long Range RWD</text>
<rect x="66.61" y="578.97" width="5.28" height="5.28" fill="#2288F0" stroke="#fff" stroke-opacity="0.9" stroke-width="1.1" paint-order="stroke"/>
<text x="77.20" y="583.26" font-size="5.85" text-anchor="start" fill="#000" font-weight="normal" font-style="normal" transform="rotate(0.03 77.20 583.26)">Genesis GV70 Electrified Sport</text>
<rect x="66.61" y="586.07" width="5.28" height="5.28" fill="#A3DDF8" stroke="#fff" stroke-opacity="0.9" stroke-width="1.1" paint-order="stroke"/>
<text x="77.20" y="590.36" font-size="5.85" text-anchor="start" fill="#000" font-weight="normal" font-style="normal" transform="rotate(0.03 77.20 590.36)">Lotus Eletre</text>
<rect x="66.61" y="593.18" width="5.28" height="5.28" fill="#F98810" stroke="#fff" stroke-opacity="0.9" stroke-width="1.1" paint-order="stroke"/>
<text x="77.20" y="597.47" font-size="5.85" text-anchor="start" fill="#000" font-weight="normal" font-style="normal" transform="rotate(0.03 77.20 597.47)">Tesla Model 3</text>
<rect x="66.61" y="600.29" width="5.28" height="5.28" fill="#FCC8CC" stroke="#fff" stroke-opacity="0.9" stroke-width="1.1" paint-order="stroke"/>
<text x="77.20" y="604.58" font-size="5.85" text-anchor="start" fill="#000" font-weight="normal" font-style="normal" transform="rotate(0.03 77.20 604.58)">Smart #3 Premium</text>
<rect x="66.61" y="607.39" width="5.28" height="5.28" fill="#F47478" stroke="#fff" stroke-opacity="0.9" stroke-width="1.1" paint-order="stroke"/>
<text x="77.20" y="611.68" font-size="5.85" text-anchor="start" fill="#000" font-weight="normal" font-style="normal" transform="rotate(0.03 77.20 611.68)">Skoda Elroq 85</text>
<rect x="66.61" y="614.50" width="5.28" height="5.28" fill="#E8343E" stroke="#fff" stroke-opacity="0.9" stroke-width="1.1" paint-order="stroke"/>
<text x="77.20" y="618.79" font-size="5.85" text-anchor="start" fill="#000" font-weight="normal" font-style="normal" transform="rotate(0.03 77.20 618.79)">Volvo EC40 Twin Motor Performance</text>
<rect x="66.61" y="621.61" width="5.28" height="5.28" fill="#5EC046" stroke="#fff" stroke-opacity="0.9" stroke-width="1.1" paint-order="stroke"/>
<text x="77.20" y="625.90" font-size="5.85" text-anchor="start" fill="#000" font-weight="normal" font-style="normal" transform="rotate(0.03 77.20 625.90)">VinFast VF 8 Eco Extended Range</text>
<circle cx="179.00" cy="574.50" r="3.00" fill="#1648B4" stroke="#fff" stroke-opacity="0.9" stroke-width="1.1" paint-order="stroke"/>
<text x="187.20" y="576.15" font-size="5.85" text-anchor="start" fill="#000" font-weight="normal" font-style="normal" transform="rotate(0.03 187.20 576.15)">Genesis GV60 Premium</text>
<circle cx="179.00" cy="581.61" r="3.00" fill="#38B6F6" stroke="#fff" stroke-opacity="0.9" stroke-width="1.1" paint-order="stroke"/>
<text x="187.20" y="583.26" font-size="5.85" text-anchor="start" fill="#000" font-weight="normal" font-style="normal" transform="rotate(0.03 187.20 583.26)">Lotus Emeya</text>
<circle cx="179.00" cy="588.71" r="3.00" fill="#C8EEFB" stroke="#fff" stroke-opacity="0.9" stroke-width="1.1" paint-order="stroke"/>
<text x="187.20" y="590.36" font-size="5.85" text-anchor="start" fill="#000" font-weight="normal" font-style="normal" transform="rotate(0.03 187.20 590.36)">Maserati GranTurismo Folgore</text>
<circle cx="179.00" cy="595.82" r="3.00" fill="#F8A030" stroke="#fff" stroke-opacity="0.9" stroke-width="1.1" paint-order="stroke"/>
<text x="187.20" y="597.47" font-size="5.85" text-anchor="start" fill="#000" font-weight="normal" font-style="normal" transform="rotate(0.03 187.20 597.47)">MG MG4 Electric 64 kWh</text>
<circle cx="179.00" cy="602.93" r="3.00" fill="#FBCB98" stroke="#fff" stroke-opacity="0.9" stroke-width="1.1" paint-order="stroke"/>
<text x="187.20" y="604.58" font-size="5.85" text-anchor="start" fill="#000" font-weight="normal" font-style="normal" transform="rotate(0.03 187.20 604.58)">Cadillac Lyriq 600 E4</text>
<circle cx="179.00" cy="610.03" r="3.00" fill="#EE525C" stroke="#fff" stroke-opacity="0.9" stroke-width="1.1" paint-order="stroke"/>
<text x="187.20" y="611.68" font-size="5.85" text-anchor="start" fill="#000" font-weight="normal" font-style="normal" transform="rotate(0.03 187.20 611.68)">CUPRA Tavascan Endurance</text>
<circle cx="179.00" cy="617.14" r="3.00" fill="#0A860A" stroke="#fff" stroke-opacity="0.9" stroke-width="1.1" paint-order="stroke"/>
<text x="187.20" y="618.79" font-size="5.85" text-anchor="start" fill="#000" font-weight="normal" font-style="normal" transform="rotate(0.03 187.20 618.79)">Tesla Model S Plaid</text>
<circle cx="179.00" cy="624.25" r="3.00" fill="#82D860" stroke="#fff" stroke-opacity="0.9" stroke-width="1.1" paint-order="stroke"/>
<text x="187.20" y="625.90" font-size="5.85" text-anchor="start" fill="#000" font-weight="normal" font-style="normal" transform="rotate(0.03 187.20 625.90)">Mercedes-Benz EQS 450+</text>
<polygon points="272.00,570.90 275.75,577.20 268.25,577.20" fill="#0A1688" stroke="#fff" stroke-opacity="0.9" stroke-width="1.1" paint-order="stroke"/>
<text x="280.70" y="576.15" font-size="5.85" text-anchor="start" fill="#000" font-weight="normal" font-style="normal" transform="rotate(0.03 280.70 576.15)">Hyundai IONIQ 6 Long Range 2WD</text>
<polygon points="272.00,578.01 275.75,584.31 268.25,584.31" fill="#7CD0F8" stroke="#fff" stroke-opacity="0.9" stroke-width="1.1" paint-order="stroke"/>
<text x="280.70" y="583.26" font-size="5.85" text-anchor="start" fill="#000" font-weight="normal" font-style="normal" transform="rotate(0.03 280.70 583.26)">XPENG G9 RWD Long Range</text>
<polygon points="272.00,585.11 275.75,591.41 268.25,591.41" fill="#F05A0A" stroke="#fff" stroke-opacity="0.9" stroke-width="1.1" paint-order="stroke"/>
<text x="280.70" y="590.36" font-size="5.85" text-anchor="start" fill="#000" font-weight="normal" font-style="normal" transform="rotate(0.03 280.70 590.36)">Porsche Macan Electric</text>
<polygon points="272.00,592.22 275.75,598.52 268.25,598.52" fill="#F8B060" stroke="#fff" stroke-opacity="0.9" stroke-width="1.1" paint-order="stroke"/>
<text x="280.70" y="597.47" font-size="5.85" text-anchor="start" fill="#000" font-weight="normal" font-style="normal" transform="rotate(0.03 280.70 597.47)">Volkswagen ID.7 Pro S</text>
<polygon points="272.00,599.33 275.75,605.63 268.25,605.63" fill="#FBD8B8" stroke="#fff" stroke-opacity="0.9" stroke-width="1.1" paint-order="stroke"/>
<text x="280.70" y="604.58" font-size="5.85" text-anchor="start" fill="#000" font-weight="normal" font-style="normal" transform="rotate(0.03 280.70 604.58)">Lucid Air Grand Touring</text>
<polygon points="272.00,606.43 275.75,612.74 268.25,612.74" fill="#D41822" stroke="#fff" stroke-opacity="0.9" stroke-width="1.1" paint-order="stroke"/>
<text x="280.70" y="611.68" font-size="5.85" text-anchor="start" fill="#000" font-weight="normal" font-style="normal" transform="rotate(0.03 280.70 611.68)">Lexus RZ 300e</text>
<polygon points="272.00,613.54 275.75,619.84 268.25,619.84" fill="#289828" stroke="#fff" stroke-opacity="0.9" stroke-width="1.1" paint-order="stroke"/>
<text x="280.70" y="618.79" font-size="5.85" text-anchor="start" fill="#000" font-weight="normal" font-style="normal" transform="rotate(0.03 280.70 618.79)">Polestar 4 Long Range Single Motor</text>
<polygon points="272.00,620.65 275.75,626.95 268.25,626.95" fill="#B0E898" stroke="#fff" stroke-opacity="0.9" stroke-width="1.1" paint-order="stroke"/>
<text x="280.70" y="625.90" font-size="5.85" text-anchor="start" fill="#000" font-weight="normal" font-style="normal" transform="rotate(0.03 280.70 625.90)">Mercedes-Benz G 580</text>
<polygon points="380.00,570.69 383.81,574.50 380.00,578.31 376.19,574.50" fill="#2A82EA" stroke="#fff" stroke-opacity="0.9" stroke-width="1.1" paint-order="stroke"/>
<text x="388.20" y="576.15" font-size="5.85" text-anchor="start" fill="#000" font-weight="normal" font-style="normal" transform="rotate(0.03 388.20 576.15)">Hyundai IONIQ 5 84 kWh RWD</text>
<polygon points="380.00,577.80 383.81,581.61 380.00,585.42 376.19,581.61" fill="#20A6F2" stroke="#fff" stroke-opacity="0.9" stroke-width="1.1" paint-order="stroke"/>
<text x="388.20" y="583.26" font-size="5.85" text-anchor="start" fill="#000" font-weight="normal" font-style="normal" transform="rotate(0.03 388.20 583.26)">Audi e-tron GT S</text>
<polygon points="380.00,584.90 383.81,588.71 380.00,592.52 376.19,588.71" fill="#F06A10" stroke="#fff" stroke-opacity="0.9" stroke-width="1.1" paint-order="stroke"/>
<text x="388.20" y="590.36" font-size="5.85" text-anchor="start" fill="#000" font-weight="normal" font-style="normal" transform="rotate(0.03 388.20 590.36)">NIO EL8 Long Range</text>
<polygon points="380.00,592.01 383.81,595.82 380.00,599.63 376.19,595.82" fill="#FACFA0" stroke="#fff" stroke-opacity="0.9" stroke-width="1.1" paint-order="stroke"/>
<text x="388.20" y="597.47" font-size="5.85" text-anchor="start" fill="#000" font-weight="normal" font-style="normal" transform="rotate(0.03 388.20 597.47)">CUPRA Born VZ</text>
<polygon points="380.00,599.12 383.81,602.93 380.00,606.74 376.19,602.93" fill="#FDEBE8" stroke="#fff" stroke-opacity="0.9" stroke-width="1.1" paint-order="stroke"/>
<text x="388.20" y="604.58" font-size="5.85" text-anchor="start" fill="#000" font-weight="normal" font-style="normal" transform="rotate(0.03 388.20 604.58)">Tesla Model Y Long Range RWD</text>
<polygon points="380.00,606.23 383.81,610.03 380.00,613.84 376.19,610.03" fill="#CC1018" stroke="#fff" stroke-opacity="0.9" stroke-width="1.1" paint-order="stroke"/>
<text x="388.20" y="611.68" font-size="5.85" text-anchor="start" fill="#000" font-weight="normal" font-style="normal" transform="rotate(0.03 388.20 611.68)">Toyota bZ4X FWD</text>
<polygon points="380.00,613.33 383.81,617.14 380.00,620.95 376.19,617.14" fill="#4AB23E" stroke="#fff" stroke-opacity="0.9" stroke-width="1.1" paint-order="stroke"/>
<text x="388.20" y="618.79" font-size="5.85" text-anchor="start" fill="#000" font-weight="normal" font-style="normal" transform="rotate(0.03 388.20 618.79)">Volvo EX90 Twin Motor Performance</text>
<polygon points="380.00,621.01 382.81,622.63 382.81,625.87 380.00,627.49 377.19,625.87 377.19,622.63" fill="#CBF4AE" stroke="#fff" stroke-opacity="0.9" stroke-width="1.1" paint-order="stroke"/>
<text x="388.20" y="625.90" font-size="5.85" text-anchor="start" fill="#000" font-weight="normal" font-style="normal" transform="rotate(0.03 388.20 625.90)">Nissan Ariya 87kWh</text>
<polygon points="489.25,571.26 492.06,572.88 492.06,576.12 489.25,577.74 486.44,576.12 486.44,572.88" fill="#2468D8" stroke="#fff" stroke-opacity="0.9" stroke-width="1.1" paint-order="stroke"/>
<text x="497.20" y="576.15" font-size="5.85" text-anchor="start" fill="#000" font-weight="normal" font-style="normal" transform="rotate(0.03 497.20 576.15)">Kia EV6 Long Range 2WD</text>
<polygon points="489.25,578.37 492.06,579.99 492.06,583.23 489.25,584.85 486.44,583.23 486.44,579.99" fill="#1E9AF2" stroke="#fff" stroke-opacity="0.9" stroke-width="1.1" paint-order="stroke"/>
<text x="497.20" y="583.26" font-size="5.85" text-anchor="start" fill="#000" font-weight="normal" font-style="normal" transform="rotate(0.03 497.20 583.26)">Porsche Taycan Plus</text>
<polygon points="489.25,585.47 492.06,587.09 492.06,590.33 489.25,591.95 486.44,590.33 486.44,587.09" fill="#F58010" stroke="#fff" stroke-opacity="0.9" stroke-width="1.1" paint-order="stroke"/>
<text x="497.20" y="590.36" font-size="5.85" text-anchor="start" fill="#000" font-weight="normal" font-style="normal" transform="rotate(0.03 497.20 590.36)">BYD SEALION 7 91.3 kWh AWD Excellence</text>
<polygon points="489.25,592.58 492.06,594.20 492.06,597.44 489.25,599.06 486.44,597.44 486.44,594.20" fill="#FAD8B0" stroke="#fff" stroke-opacity="0.9" stroke-width="1.1" paint-order="stroke"/>
<text x="497.20" y="597.47" font-size="5.85" text-anchor="start" fill="#000" font-weight="normal" font-style="normal" transform="rotate(0.03 497.20 597.47)">Ford Explorer Extended Range RWD</text>
<polygon points="489.25,599.69 492.06,601.31 492.06,604.55 489.25,606.17 486.44,604.55 486.44,601.31" fill="#F8A2AA" stroke="#fff" stroke-opacity="0.9" stroke-width="1.1" paint-order="stroke"/>
<text x="497.20" y="604.58" font-size="5.85" text-anchor="start" fill="#000" font-weight="normal" font-style="normal" transform="rotate(0.03 497.20 604.58)">BMW i7 xDrive60</text>
<polygon points="489.25,606.79 492.06,608.41 492.06,611.65 489.25,613.27 486.44,611.65 486.44,608.41" fill="#B8040C" stroke="#fff" stroke-opacity="0.9" stroke-width="1.1" paint-order="stroke"/>
<text x="497.20" y="611.68" font-size="5.85" text-anchor="start" fill="#000" font-weight="normal" font-style="normal" transform="rotate(0.03 497.20 611.68)">Subaru Solterra AWD</text>
<polygon points="489.25,613.90 492.06,615.52 492.06,618.76 489.25,620.38 486.44,618.76 486.44,615.52" fill="#3AA42E" stroke="#fff" stroke-opacity="0.9" stroke-width="1.1" paint-order="stroke"/>
<text x="497.20" y="618.79" font-size="5.85" text-anchor="start" fill="#000" font-weight="normal" font-style="normal" transform="rotate(0.03 497.20 618.79)">Peugeot e-3008 97 kWh Long Range</text>
<polygon points="489.25,621.00 492.53,623.38 491.28,627.24 487.22,627.24 485.97,623.38" fill="#E2FDC6" stroke="#fff" stroke-opacity="0.9" stroke-width="1.1" paint-order="stroke"/>
<text x="497.20" y="625.90" font-size="5.85" text-anchor="start" fill="#000" font-weight="normal" font-style="normal" transform="rotate(0.03 497.20 625.90)">Hongqi E-HS9 99 kWh</text>
</g>
</svg>
</body></html>
